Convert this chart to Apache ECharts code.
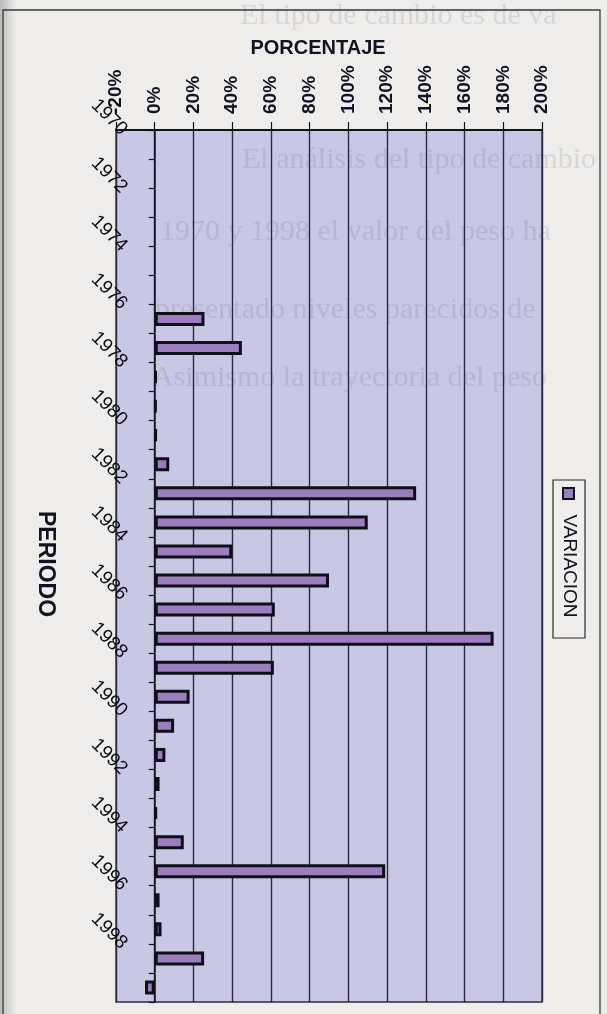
<!DOCTYPE html>
<html>
<head>
<meta charset="utf-8">
<script src="https://cdn.jsdelivr.net/npm/echarts@6/dist/echarts.min.js"></script>
<style>
  html, body { margin: 0; padding: 0; background: #eeedeb; }
  #chart { width: 607px; height: 1014px; }
</style>
</head>
<body>
<div id="chart"></div>
<script>
// Periods on the category axis (top to bottom)
const years = ['1970','1971','1972','1973','1974','1975','1976','1977','1978','1979',
               '1980','1981','1982','1983','1984','1985','1986','1987','1988','1989',
               '1990','1991','1992','1993','1994','1995','1996','1997','1998','1999'];

// Annual variation, percent (no data before 1976)
const variacion = [null, null, null, null, null, null, 25.7, 45, 0.8, 0.7,
                   0.9, 7.5, 135, 110, 40, 90, 62, 175, 61.5, 18,
                   10, 5.5, 2.5, 1, 15, 119, 2.5, 3.5, 25.5, -5];

// Value-axis ticks, percent
const valueTicks = [-20, 0, 20, 40, 60, 80, 100, 120, 140, 160, 180, 200];

const seriesName = 'VARIACION';
const axisTitleX = 'PORCENTAJE';
const axisTitleY = 'PERIODO';

// Faint lines of the facing page showing through the paper
const paperLines = [
  { text: 'El tipo de cambio es de va', x: 240, y: 16 },
  { text: 'El análisis del tipo de cambio', x: 242, y: 160 },
  { text: '1970 y 1998 el valor del peso ha', x: 160, y: 232 },
  { text: 'presentado niveles parecidos de', x: 155, y: 310 },
  { text: 'Asimismo la trayectoria del peso', x: 152, y: 378 }
];

const ink = '#141220';
const gridInk = '#2c2a3c';
const barFill = '#9a7ebe';
const plotFill = '#c8c8e5';
const fontFamily = '"Liberation Sans", Arial, sans-serif';

const chart = echarts.init(document.getElementById('chart'), null, { renderer: 'canvas' });

const graphics = [
  // scanner shadow along the left edge
  {
    type: 'rect', z: -10, silent: true,
    shape: { x: 0, y: 0, width: 16, height: 1014 },
    style: {
      fill: new echarts.graphic.LinearGradient(0, 0, 1, 0, [
        { offset: 0, color: 'rgba(90,90,90,0.35)' },
        { offset: 1, color: 'rgba(90,90,90,0)' }
      ])
    }
  },
  // chart area frame
  {
    type: 'rect', z: 1, silent: true,
    shape: { x: 3, y: 10, width: 597, height: 1040 },
    style: { fill: 'none', stroke: '#3a3a3a', lineWidth: 1.3 }
  },
  // axis titles
  {
    type: 'text', z: 10, x: 318, y: 48,
    style: { text: axisTitleX, font: 'bold 20px ' + fontFamily, fill: ink, align: 'center', verticalAlign: 'middle' }
  },
  {
    type: 'text', z: 10, x: 45, y: 564, rotation: -Math.PI / 2,
    style: { text: axisTitleY, font: 'bold 23px ' + fontFamily, fill: ink, align: 'center', verticalAlign: 'middle' }
  },
  // legend
  {
    type: 'group', z: 10,
    children: [
      { type: 'rect', shape: { x: 553, y: 480, width: 32, height: 158 },
        style: { fill: '#efeeec', stroke: '#2a2a2a', lineWidth: 1.2 } },
      { type: 'rect', shape: { x: 563, y: 488, width: 11, height: 11 },
        style: { fill: barFill, stroke: ink, lineWidth: 2 } },
      { type: 'text', x: 569, y: 566, rotation: -Math.PI / 2,
        style: { text: seriesName, font: '19px ' + fontFamily, fill: ink, align: 'center', verticalAlign: 'middle' } }
    ]
  }
];

paperLines.forEach(function (l) {
  graphics.push({
    type: 'text', z: 0, silent: true, x: l.x, y: l.y,
    style: { text: l.text, font: '30px "Liberation Serif", "DejaVu Serif", serif',
             fill: 'rgba(70,70,80,0.13)', verticalAlign: 'middle' }
  });
});

const option = {
  backgroundColor: '#eeedeb',
  animation: false,
  textStyle: { fontFamily: fontFamily },
  grid: {
    left: 116, top: 130, width: 426, height: 872,
    show: true, backgroundColor: plotFill,
    borderColor: gridInk, borderWidth: 1.3,
    containLabel: false, outerBoundsMode: 'none'
  },
  xAxis: {
    type: 'value', position: 'top',
    min: valueTicks[0], max: valueTicks[valueTicks.length - 1],
    interval: valueTicks[1] - valueTicks[0],
    axisLine: { show: true, onZero: false, lineStyle: { color: ink, width: 2 } },
    axisTick: { show: true, inside: false, length: 8, lineStyle: { color: ink, width: 1.2 } },
    axisLabel: {
      rotate: -90, margin: 16, fontSize: 19, fontWeight: 'bold', color: ink,
      formatter: '{value}%'
    },
    splitLine: { show: true, lineStyle: { color: gridInk, width: 1.4 } }
  },
  yAxis: [
    {
      type: 'category', data: years, inverse: true, position: 'left',
      axisLine: { show: false, onZero: false },
      axisTick: { show: false },
      axisLabel: {
        interval: 1, rotate: -45, margin: 0, fontSize: 19, color: '#0c0c12',
        align: 'right', verticalAlign: 'bottom', padding: [0, 3, 5, 0]
      },
      splitLine: { show: false }
    },
    {
      type: 'category', data: years, inverse: true, position: 'left',
      axisLine: { show: true, onZero: true, lineStyle: { color: ink, width: 1.5 } },
      axisTick: { show: true, interval: 0, length: 6, alignWithLabel: false, lineStyle: { color: ink, width: 1.2 } },
      axisLabel: { show: false },
      splitLine: { show: false }
    }
  ],
  series: [
    {
      name: seriesName, type: 'bar', yAxisIndex: 0,
      data: variacion, barWidth: 14,
      itemStyle: { color: barFill, borderColor: '#100e18', borderWidth: 3 },
      z: 5
    }
  ],
  graphic: graphics
};

chart.setOption(option);
</script>
</body>
</html>
